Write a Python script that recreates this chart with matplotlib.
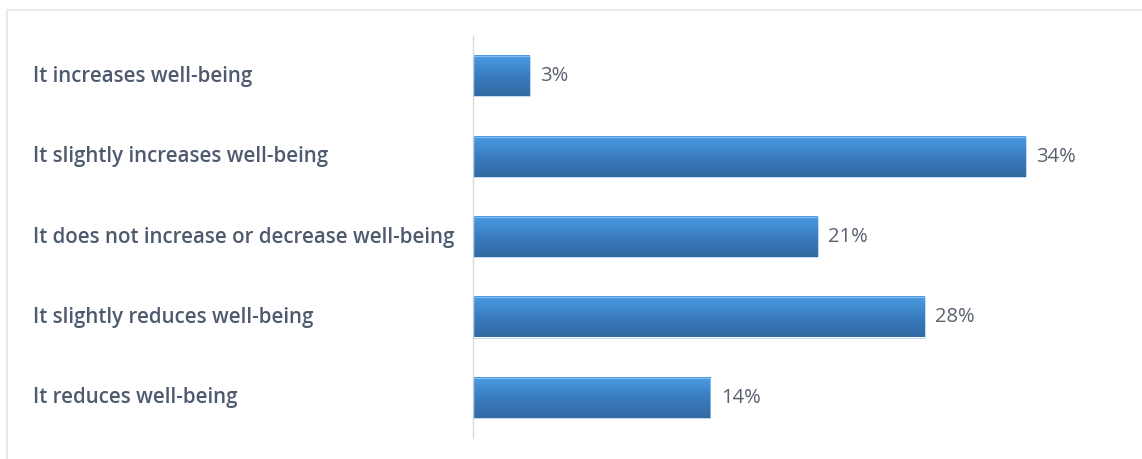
import numpy as np
import matplotlib
matplotlib.use("Agg")
import matplotlib.pyplot as plt
from matplotlib.colors import LinearSegmentedColormap
from matplotlib.lines import Line2D

# data (top to bottom)
categories = [
    "It increases well-being",
    "It slightly increases well-being",
    "It does not increase or decrease well-being",
    "It slightly reduces well-being",
    "It reduces well-being",
]
values = [3.5, 34.0, 21.2, 27.8, 14.6]
value_labels = ["3%", "34%", "21%", "28%", "14%"]

W, H = 1142, 459
fig = plt.figure(figsize=(W / 100, H / 100), dpi=100)
fig.patch.set_facecolor("white")

# light frame on top and left
fig.add_artist(Line2D([7 / W, 1.0], [1 - 10 / H, 1 - 10 / H], color="#E8E8EE", lw=1.5))
fig.add_artist(Line2D([7 / W, 7 / W], [0, 1 - 10 / H], color="#E8E8EE", lw=1.5))

ax = fig.add_axes([473 / W, 21 / H, 650 / W, 402 / H])

grad = LinearSegmentedColormap.from_list("bar", ["#4A9CE4", "#3A7CC0", "#336AA2"])
g = np.linspace(0, 1, 100).reshape(-1, 1)

ypos = np.arange(len(categories))
bars = ax.barh(ypos, values, height=0.5, color="none", edgecolor="#A8CBEE", linewidth=0.5, zorder=3)
for b, lab in zip(bars, value_labels):
    x0, y0 = b.get_x(), b.get_y()
    w, h = b.get_width(), b.get_height()
    ax.imshow(g, cmap=grad, aspect="auto", extent=[x0, x0 + w, y0 + h, y0], zorder=2)
    ax.text(x0 + w + 0.65, y0 + h / 2, lab, va="center", ha="left",
            fontsize=14.5, color="#5A6070", family="Open Sans")

ax.set_xlim(0, 40)
ax.set_ylim(len(categories) - 0.5, -0.5)

for s in ["top", "right", "bottom"]:
    ax.spines[s].set_visible(False)
ax.spines["left"].set_color("#D9D9D9")
ax.spines["left"].set_linewidth(1)
ax.set_xticks([])
ax.set_yticks([])

# category labels, left aligned
for y, c in zip(ypos, categories):
    ax.text(-440 / 650 * 40, y, c, va="center", ha="left", fontsize=14.8,
            fontweight="semibold", color="#4E5A6E", family="Open Sans")

fig.savefig("out.png", dpi=100)
